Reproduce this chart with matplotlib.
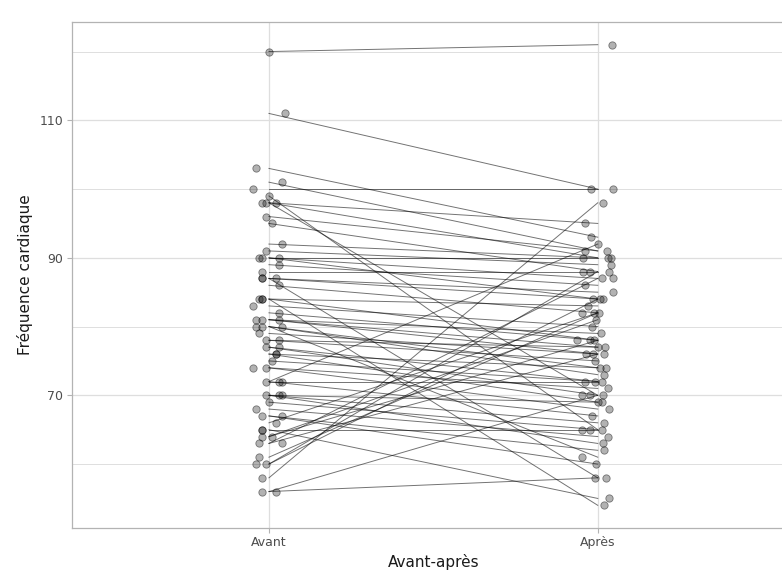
import matplotlib
matplotlib.use("Agg")
import matplotlib.pyplot as plt
import numpy as np

# Heart rate of each subject before ("Avant") and after ("Après")
avant = [120, 111, 103, 101, 100, 99, 98, 98, 98, 96, 95, 92, 91, 90, 90, 90, 89, 88,
         87, 87, 87, 86, 84, 84, 84, 83, 82, 81, 81, 81, 80, 80, 80, 79, 78, 78, 77, 77,
         76, 76, 75, 74, 74, 72, 72, 72, 70, 70, 70, 69, 68, 67, 67, 66, 65, 65, 64, 64,
         63, 63, 61, 60, 60, 58, 56, 56]
apres = [121, 100, 93, 91, 100, 65, 95, 90, 70, 91, 88, 90, 89, 90, 87, 84, 86, 88,
         85, 84, 58, 82, 83, 78, 54, 80, 78, 77, 79, 76, 74, 73, 61, 76, 77, 75, 72, 70,
         74, 69, 72, 71, 68, 92, 67, 72, 69, 66, 63, 65, 64, 62, 60, 82, 65, 55, 78, 81,
         87, 76, 82, 84, 88, 98, 58, 70]

# Horizontal jitter of the points (in category units)
jit_avant = [0.00, 0.05, -0.04, 0.04, -0.05, 0.00, -0.02, -0.01, 0.02, -0.01, 0.01, 0.04,
             -0.01, -0.03, -0.02, 0.03, 0.03, -0.02, -0.02, -0.02, 0.02, 0.03, -0.03, -0.02,
             -0.02, -0.05, 0.03, -0.04, -0.02, 0.03, -0.04, -0.02, 0.04, -0.03, -0.01, 0.03,
             -0.01, 0.03, 0.02, 0.02, 0.01, -0.05, -0.01, -0.01, 0.03, 0.04, -0.01, 0.03,
             0.04, 0.00, -0.04, -0.02, 0.04, 0.02, -0.02, -0.02, -0.02, 0.01, 0.04, -0.03,
             -0.03, -0.04, -0.01, -0.02, -0.02, 0.02]
jit_apres = [0.043, -0.021, -0.021, -0.040, 0.046, 0.012, -0.040, -0.046, -0.049, 0.027,
             -0.046, 0.030, 0.040, 0.040, 0.012, -0.015, -0.040, -0.024, 0.046, 0.006,
             -0.009, -0.012, -0.030, -0.064, 0.018, -0.018, -0.024, 0.021, 0.009, -0.037,
             0.006, 0.018, -0.049, -0.015, 0.000, -0.009, -0.009, 0.015, 0.024, 0.012,
             0.012, 0.030, 0.033, 0.000, -0.018, -0.040, 0.000, 0.018, 0.015, -0.049,
             0.030, 0.018, -0.006, -0.049, -0.024, 0.033, -0.012, -0.006, 0.046, 0.018,
             0.003, 0.015, 0.033, 0.015, 0.024, -0.024]

categories = ["Avant", "Après"]

fig = plt.figure(figsize=(7.82, 5.70), dpi=100)
ax = fig.add_axes([71.7 / 782, 1 - 528 / 570, (795 - 71.7) / 782, (528 - 22) / 570])

# paired lines, one per subject
for a, b in zip(avant, apres):
    ax.plot([1, 2], [a, b], color="black", alpha=0.55, lw=0.7, zorder=3)

x_av = 1 + np.array(jit_avant)
x_ap = 2 + np.array(jit_apres)
pt_kw = dict(s=28, facecolor=(0, 0, 0, 0.30), edgecolor=(0, 0, 0, 0.45), linewidth=0.6, zorder=4)
ax.scatter(x_av, avant, **pt_kw)
ax.scatter(x_ap, apres, **pt_kw)

ax.set_xlim(0.4, 2.6)
ax.set_ylim(50.7, 124.3)
ax.set_xticks([1, 2])
ax.set_xticklabels(categories)
ax.set_yticks([70, 90, 110])
ax.set_yticks([60, 80, 100, 120], minor=True)

ax.grid(True, which="major", color="#DEDEDE", lw=0.9, zorder=0)
ax.grid(True, which="minor", axis="y", color="#DEDEDE", lw=0.7, zorder=0)
ax.set_axisbelow(True)

for side, sp in ax.spines.items():
    sp.set_color("#B3B3B3")
    sp.set_linewidth(0.9)

ax.tick_params(axis="both", which="major", length=3.5, width=0.8, color="#B3B3B3",
               labelcolor="#4D4D4D", labelsize=9, pad=2.5)
ax.tick_params(axis="y", which="minor", length=0)

ax.set_xlabel("Avant-après", fontsize=11, color="#1A1A1A", labelpad=3)
ax.set_ylabel("Fréquence cardiaque", fontsize=11, color="#1A1A1A", labelpad=5)

fig.savefig("out.png", dpi=100)
